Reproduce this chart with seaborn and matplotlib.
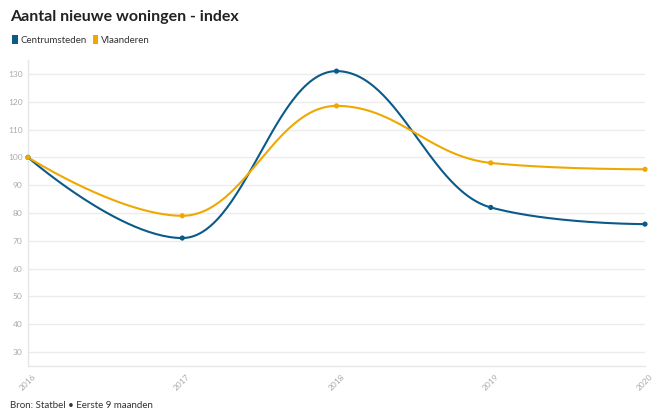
import numpy as np
import pandas as pd
import matplotlib
matplotlib.use("Agg")
import matplotlib.pyplot as plt
from matplotlib.patches import Patch
import seaborn as sns

# data
years = [2016, 2017, 2018, 2019, 2020]
centrumsteden = [100, 71, 131, 82, 76]
vlaanderen = [100, 79, 118.5, 98, 95.7]
series_names = ["Centrumsteden", "Vlaanderen"]
colors = ["#0b5a8a", "#efa800"]
y_ticks = [30, 40, 50, 60, 70, 80, 90, 100, 110, 120, 130]


def spline_curve(xs, ys, smoothing=1.5, steps=60):
    # Highcharts-like spline: bezier segments between data points
    xs = np.asarray(xs, dtype=float)
    ys = np.asarray(ys, dtype=float)
    n = len(xs)
    left = [(xs[i], ys[i]) for i in range(n)]
    right = [(xs[i], ys[i]) for i in range(n)]
    d = smoothing + 1
    for i in range(1, n - 1):
        px, py = xs[i], ys[i]
        lx, ly = xs[i - 1], ys[i - 1]
        nx, ny = xs[i + 1], ys[i + 1]
        lcx = (smoothing * px + lx) / d
        lcy = (smoothing * py + ly) / d
        rcx = (smoothing * px + nx) / d
        rcy = (smoothing * py + ny) / d
        if rcx != lcx:
            corr = (rcy - lcy) * (rcx - px) / (rcx - lcx) + py - rcy
            lcy += corr
            rcy += corr
        if lcy > ly and lcy > py:
            lcy = max(ly, py)
            rcy = 2 * py - lcy
        elif lcy < ly and lcy < py:
            lcy = min(ly, py)
            rcy = 2 * py - lcy
        if rcy > ny and rcy > py:
            rcy = max(ny, py)
            lcy = 2 * py - rcy
        elif rcy < ny and rcy < py:
            rcy = min(ny, py)
            lcy = 2 * py - rcy
        left[i] = (lcx, lcy)
        right[i] = (rcx, rcy)
    t = np.linspace(0, 1, steps)[:, None]
    out = []
    for i in range(n - 1):
        p0 = np.array([xs[i], ys[i]])
        p1 = np.array(right[i])
        p2 = np.array(left[i + 1])
        p3 = np.array([xs[i + 1], ys[i + 1]])
        seg = ((1 - t) ** 3) * p0 + 3 * ((1 - t) ** 2) * t * p1 + 3 * (1 - t) * t ** 2 * p2 + t ** 3 * p3
        out.append(seg if i == 0 else seg[1:])
    out = np.vstack(out)
    return out[:, 0], out[:, 1]


df = pd.DataFrame({
    "jaar": years * 2,
    "index": centrumsteden + vlaanderen,
    "reeks": [series_names[0]] * len(years) + [series_names[1]] * len(years),
})

sns.set_theme(style="white")
plt.rcParams["font.family"] = ["Lato", "DejaVu Sans"]

fig = plt.figure(figsize=(6.6, 4.2), dpi=100)
ax = fig.add_axes([28 / 660, 1 - 366 / 420, 617 / 660, 306 / 420])

for name, col in zip(series_names, colors):
    sub = df[df["reeks"] == name]
    sx, sy = spline_curve(sub["jaar"], sub["index"])
    ax.plot(sx, sy, color=col, lw=1.5, zorder=3, clip_on=False)

sns.scatterplot(data=df, x="jaar", y="index", hue="reeks", palette=colors,
                s=14, edgecolor="none", legend=False, zorder=4, ax=ax,
                clip_on=False)

ax.set_xlim(2016, 2020)
ax.set_ylim(25, 135)
ax.set_yticks(y_ticks)
ax.set_xticks(years)
ax.set_xticklabels([str(y) for y in years], rotation=45, ha="center")
ax.grid(axis="y", color="#ececec", lw=1)
ax.set_xlabel("")
ax.set_ylabel("")
for s in ["top", "right"]:
    ax.spines[s].set_visible(False)
for s in ["left", "bottom"]:
    ax.spines[s].set_color("#e6e6e6")
    ax.spines[s].set_linewidth(1)
ax.tick_params(axis="y", length=0, labelsize=6, labelcolor="#aaaaaa", pad=4)
ax.tick_params(axis="x", length=4, direction="in", color="#e6e6e6",
               labelsize=6, labelcolor="#aaaaaa", pad=5)

fig.text(10 / 660, 1 - 17 / 420, "Aantal nieuwe woningen - index",
         fontsize=11.5, fontweight="bold", color="#222222", va="center")
handles = [Patch(facecolor=c, edgecolor="none") for c in colors]
fig.legend(handles, series_names, loc="center left",
           bbox_to_anchor=(3 / 660, 1 - 40 / 420), ncol=2, frameon=False,
           fontsize=7, handlelength=0.6, handleheight=1.1, handletextpad=0.3,
           columnspacing=0.6, labelcolor="#333333")
fig.text(10 / 660, 1 - 406 / 420, "Bron: Statbel \u2022 Eerste 9 maanden",
         fontsize=7, color="#333333", va="center")

fig.savefig("out.png", dpi=100)
